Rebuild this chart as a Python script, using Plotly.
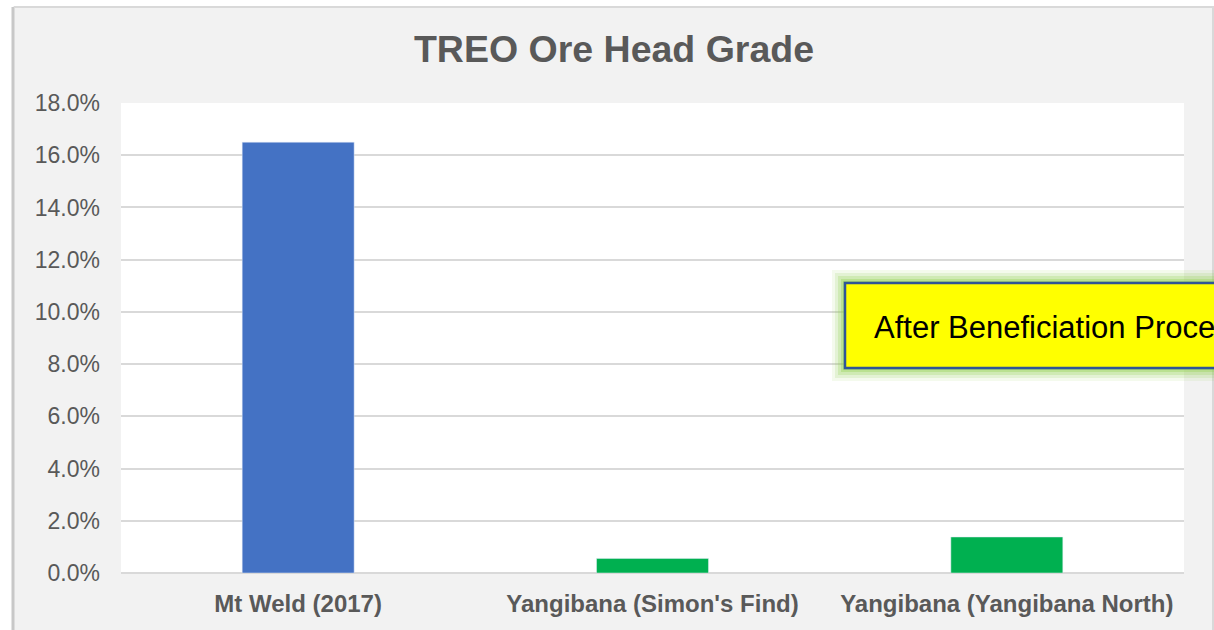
import plotly.graph_objects as go

categories = ["Mt Weld (2017)", "Yangibana (Simon's Find)", "Yangibana (Yangibana North)"]
values = [0.165, 0.0056, 0.0138]
bar_colors = ["#4472C4", "#00B050", "#00B050"]
title_text = "TREO Ore Head Grade"
note_text = "After Beneficiation Process"

W, H = 1214, 630
L, R, T, B = 121, 30, 103, 57
PW, PH = W - L - R, H - T - B


def px(x):
    return (x - L) / PW


def py(y):
    return (H - B - y) / PH


fig = go.Figure(go.Bar(
    x=categories, y=values, marker_color=bar_colors, width=0.316,
    hoverinfo="skip",
))

shapes = [
    # white outside strips
    dict(type="rect", xref="paper", yref="paper", x0=px(0), x1=px(13), y0=py(H), y1=py(0),
         fillcolor="white", line_width=0, layer="below"),
    dict(type="rect", xref="paper", yref="paper", x0=px(0), x1=px(W), y0=py(6), y1=py(0),
         fillcolor="white", line_width=0, layer="below"),
    # border lines
    dict(type="line", xref="paper", yref="paper", x0=px(13), x1=px(13), y0=py(H), y1=py(7),
         line=dict(color="#C8C8C8", width=3)),
    dict(type="line", xref="paper", yref="paper", x0=px(14), x1=px(W), y0=py(7), y1=py(7),
         line=dict(color="#D9D9D9", width=2)),
    dict(type="line", xref="paper", yref="paper", x0=px(1213), x1=px(1213), y0=py(H), y1=py(7),
         line=dict(color="#D9D9D9", width=2)),
]

# glow around annotation box
for g, col in [(13, "rgba(146,208,80,0.10)"), (10, "rgba(146,208,80,0.16)"),
               (7, "rgba(146,208,80,0.24)"), (4, "rgba(146,208,80,0.34)"),
               (2, "rgba(146,208,80,0.45)")]:
    shapes.append(dict(type="rect", xref="paper", yref="paper",
                       x0=px(845 - g), x1=px(1400), y0=py(368 + g), y1=py(283 - g),
                       fillcolor=col, line_width=0))
shapes.append(dict(type="rect", xref="paper", yref="paper",
                   x0=px(845), x1=px(1400), y0=py(368), y1=py(283),
                   fillcolor="#FFFF00", line=dict(color="#2F5597", width=2.5)))

fig.update_layout(
    width=W, height=H,
    margin=dict(l=L, r=R, t=T, b=B, pad=0),
    paper_bgcolor="#F2F2F2",
    plot_bgcolor="white",
    showlegend=False,
    font=dict(family="Liberation Sans, Arial, sans-serif", color="#595959"),
    title=dict(text="<b>" + title_text + "</b>", x=614 / W, xanchor="center",
               y=1 - 49 / H, yanchor="middle",
               font=dict(size=37.5, color="#595959")),
    xaxis=dict(
        showgrid=False, showline=False, zeroline=False, ticks="",
        tickfont=dict(size=24, color="#595959", family="Liberation Sans, Arial, sans-serif", weight="bold"),
        ticklabelstandoff=14,
        range=[-0.5, 2.5],
    ),
    yaxis=dict(
        range=[0, 0.18], dtick=0.02, tickformat=".1%",
        showgrid=True, gridcolor="#D9D9D9", gridwidth=1.5,
        zeroline=True, zerolinecolor="#D9D9D9", zerolinewidth=1.5,
        showline=False, ticks="",
        tickfont=dict(size=23, color="#595959"),
        ticklabelstandoff=20,
    ),
    shapes=shapes,
    annotations=[dict(
        text=note_text, xref="paper", yref="paper",
        x=px(872), y=py(327), xanchor="left", yanchor="middle",
        showarrow=False, font=dict(size=31, color="black",
                                   family="Liberation Sans, Arial, sans-serif"),
    )],
)

fig.write_html("out.html", config={"displayModeBar": False},
               post_script="document.body.style.margin='0';document.body.style.overflow='hidden';")
